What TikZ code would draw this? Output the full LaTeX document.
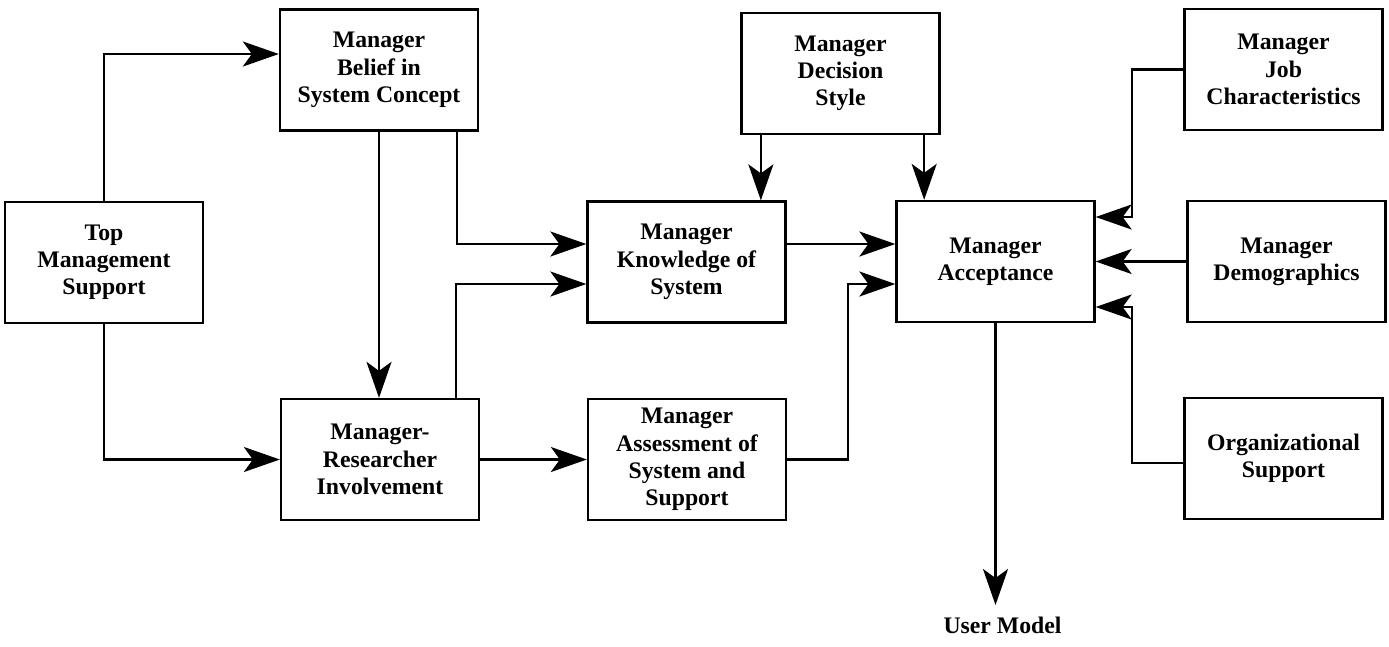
\documentclass[tikz,border=0pt]{standalone}
\usepackage{fontspec}
\setmainfont{Liberation Serif}
\usepackage{tikz}
\usetikzlibrary{arrows.meta, shapes, positioning}

\begin{document}
\begin{tikzpicture}[->,>={Stealth[length=0.72cm,width=0.5cm,inset=0.18cm]},
      line width=1.3pt,
      factor node/.style={rectangle,draw,align=center,inner sep=0pt,
        minimum width=3.96cm,minimum height=2.42cm,
        font=\fontsize{13.5}{15.5}\selectfont\bfseries}]

      \useasboundingbox (0,0) rectangle (27.78,-12.92);

      \node[factor node] (tms) at (2.08,-5.25) {Top\\Management\\Support};
      \node[factor node] (belief) at (7.58,-1.40) {Manager\\Belief in\\System Concept};
      \node[factor node] (inv) at (7.60,-9.19) {Manager-\\Researcher\\Involvement};
      \node[factor node] (know) at (13.73,-5.24) {Manager\\Knowledge of\\System};
      \node[factor node] (assess) at (13.74,-9.19) {Manager\\Assessment of\\System and\\Support};
      \node[factor node] (dec) at (16.81,-1.47) {Manager\\Decision\\Style};
      \node[factor node] (acc) at (19.91,-5.23) {Manager\\Acceptance};
      \node[factor node] (job) at (25.67,-1.39) {Manager\\Job\\Characteristics};
      \node[factor node] (demo) at (25.73,-5.23) {Manager\\Demographics};
      \node[factor node] (org) at (25.67,-9.17) {Organizational\\Support};
      \node[anchor=north,inner sep=0.22cm,font=\fontsize{13.5}{15.5}\selectfont\bfseries]
        (user) at (20.05,-12.1) {User Model};

      % left part
      \draw (tms.north) |- ([yshift=0.32cm]belief.west);
      \draw (tms.south) |- (inv.west);
      \draw (belief.south) -- (belief.south |- inv.north);
      \draw ([xshift=-0.45cm]belief.south east) |- ([yshift=0.36cm]know.west);
      \draw ([xshift=-0.48cm]inv.north east) |- ([yshift=-0.44cm]know.west);
      \draw (inv.east) -- (assess.west);

      % into acceptance
      \draw ([xshift=0.41cm]dec.south west) -- ([xshift=0.41cm]dec.south west |- know.north);
      \draw ([xshift=-0.33cm]dec.south east) -- ([xshift=-0.33cm]dec.south east |- acc.north);
      \draw ([yshift=0.36cm]know.east) -- ([yshift=0.36cm]know.east -| acc.west);
      \draw (assess.east) -- ++(1.22,0) |- ([yshift=-0.45cm]acc.west);
      \draw (job.west) -- ++(-1.03,0) |- ([yshift=0.89cm]acc.east);
      \draw (demo.west) -- (demo.west -| acc.east);
      \draw ([yshift=-0.09cm]org.west) -- ++(-1.03,0) |- ([yshift=-0.91cm]acc.east);
      \draw (acc.south) -- (acc.south |- user.north);
\end{tikzpicture}
\end{document}
